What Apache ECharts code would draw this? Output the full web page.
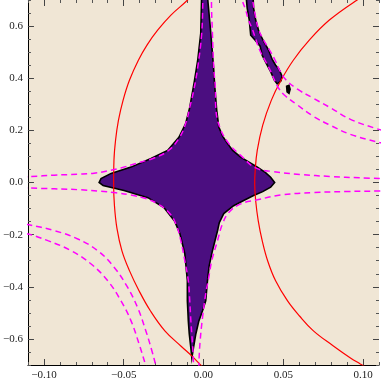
<!DOCTYPE html>
<html>
<head>
<meta charset="utf-8">
<script src="https://cdn.jsdelivr.net/npm/echarts@6/dist/echarts.min.js"></script>
<style>
  html, body { margin: 0; padding: 0; background: #fff; }
  #chart { width: 382px; height: 382px; }
</style>
</head>
<body>
<div id="chart"></div>
<script>
// filled regions (outline points, x/y in data units)
const astroid = [
  [-0.0011, 0.731], [0.0030, 0.731], [0.0027, 0.700], [0.0046, 0.573], [0.0063, 0.442], [0.0071, 0.365],
  [0.0083, 0.277], [0.0096, 0.213], [0.0121, 0.177], [0.0150, 0.150], [0.0183, 0.123], [0.0233, 0.097],
  [0.0338, 0.059], [0.0389, 0.038], [0.0421, 0.020], [0.0446, 0.000], [0.0421, -0.018], [0.0371, -0.035],
  [0.0314, -0.050], [0.0252, -0.069], [0.0189, -0.089], [0.0127, -0.119], [0.0099, -0.154], [0.0088, -0.185],
  [0.0056, -0.262], [0.0036, -0.319], [0.0025, -0.377], [0.0014, -0.454], [-0.0006, -0.492], [-0.0029, -0.531],
  [-0.0048, -0.581], [-0.0063, -0.635], [-0.0073, -0.673], [-0.0079, -0.635], [-0.0089, -0.581], [-0.0095, -0.531],
  [-0.0098, -0.492], [-0.0101, -0.454], [-0.0101, -0.377], [-0.0117, -0.273], [-0.0148, -0.196], [-0.0179, -0.150],
  [-0.0248, -0.096], [-0.0348, -0.058], [-0.0498, -0.031], [-0.0629, -0.012], [-0.0654, 0.000], [-0.0642, 0.015],
  [-0.0579, 0.035], [-0.0454, 0.059], [-0.0329, 0.092], [-0.0225, 0.123], [-0.0154, 0.173], [-0.0111, 0.227],
  [-0.0086, 0.288], [-0.0058, 0.385], [-0.0036, 0.469], [-0.0017, 0.573]
];
const strip = [
  [0.0268, 0.708], [0.0274, 0.669], [0.0287, 0.623], [0.0296, 0.565], [0.0324, 0.546], [0.0355, 0.523],
  [0.0368, 0.488], [0.0396, 0.454], [0.0421, 0.425], [0.0445, 0.392], [0.0462, 0.378], [0.0486, 0.390],
  [0.0492, 0.408], [0.0473, 0.435], [0.0452, 0.450], [0.0430, 0.473], [0.0408, 0.508], [0.0380, 0.538],
  [0.0348, 0.577], [0.0327, 0.623], [0.0314, 0.669], [0.0311, 0.708]
];
const speck = [[0.0521, 0.369], [0.0536, 0.373], [0.0543, 0.358], [0.0536, 0.342], [0.0524, 0.348]];

// red contours
const redLeft = [
  [-0.0061, 0.731], [-0.0100, 0.700], [-0.0204, 0.642], [-0.0286, 0.585], [-0.0354, 0.527], [-0.0408, 0.469],
  [-0.0464, 0.392], [-0.0504, 0.315], [-0.0533, 0.238], [-0.0551, 0.162], [-0.0561, 0.085], [-0.0563, -0.004],
  [-0.0558, -0.088], [-0.0542, -0.177], [-0.0511, -0.262], [-0.0464, -0.338], [-0.0404, -0.415], [-0.0333, -0.492],
  [-0.0242, -0.569], [-0.0142, -0.627], [-0.0067, -0.669], [-0.0011, -0.704], [0.0033, -0.727]
];
const redRight = [
  [0.1052, 0.731], [0.0963, 0.700], [0.0789, 0.623], [0.0663, 0.546], [0.0563, 0.469], [0.0486, 0.392],
  [0.0425, 0.315], [0.0371, 0.219], [0.0337, 0.123], [0.0324, 0.046], [0.0321, -0.004], [0.0327, -0.069],
  [0.0343, -0.146], [0.0368, -0.223], [0.0402, -0.300], [0.0452, -0.377], [0.0527, -0.454], [0.0602, -0.512],
  [0.0689, -0.569], [0.0814, -0.627], [0.0921, -0.673], [0.0983, -0.696], [0.1058, -0.723]
];

// magenta dashed contours
const dashUL = [
  [-0.1142, 0.0212], [-0.1079, 0.0231], [-0.0936, 0.0281], [-0.0786, 0.0319], [-0.0686, 0.0358], [-0.0579, 0.0469],
  [-0.0517, 0.0558], [-0.0423, 0.0731], [-0.0317, 0.0923], [-0.0223, 0.121], [-0.0154, 0.169], [-0.0111, 0.227],
  [-0.0086, 0.288], [-0.0061, 0.354], [-0.0036, 0.442], [-0.0011, 0.573], [-0.0004, 0.700], [-0.0003, 0.731]
];
const dashUR = [
  [0.0052, 0.731], [0.0050, 0.700], [0.0056, 0.573], [0.0064, 0.442], [0.0074, 0.365], [0.0077, 0.288],
  [0.0102, 0.2115], [0.0158, 0.150], [0.0233, 0.104], [0.0327, 0.0558], [0.0433, 0.0423], [0.0608, 0.0308],
  [0.0796, 0.0231], [0.0983, 0.0181], [0.1171, 0.0142]
];
const dashLL = [
  [-0.1142, -0.0204], [-0.0934, -0.0242], [-0.0767, -0.0281], [-0.0642, -0.0335], [-0.0548, -0.0396],
  [-0.0454, -0.0481], [-0.0361, -0.0615], [-0.0279, -0.0846], [-0.0217, -0.115], [-0.0173, -0.158],
  [-0.0142, -0.223], [-0.0117, -0.300], [-0.0095, -0.377], [-0.0086, -0.454], [-0.0079, -0.531],
  [-0.0070, -0.608], [-0.0064, -0.673], [-0.0061, -0.731]
];
const dashLR = [
  [0.1171, -0.0319], [0.1088, -0.0327], [0.0900, -0.0346], [0.0689, -0.0385], [0.0483, -0.0481],
  [0.0338, -0.0665], [0.0233, -0.0819], [0.0160, -0.114], [0.0119, -0.159], [0.0088, -0.223],
  [0.0052, -0.300], [0.0033, -0.365], [0.0014, -0.427], [-0.0006, -0.518], [-0.0021, -0.608],
  [-0.0028, -0.685], [-0.0029, -0.731]
];
const dashCornerA = [
  [-0.1173, -0.1538], [-0.1100, -0.1615], [-0.0934, -0.1846], [-0.0788, -0.2165], [-0.0663, -0.2615],
  [-0.0559, -0.3258], [-0.0475, -0.4027], [-0.0413, -0.4796], [-0.0361, -0.5692], [-0.0323, -0.6462],
  [-0.0298, -0.7038], [-0.0289, -0.7308]
];
const dashCornerB = [
  [-0.1173, -0.1904], [-0.1100, -0.1973], [-0.0975, -0.2231], [-0.0829, -0.2615], [-0.0704, -0.3127],
  [-0.0600, -0.3769], [-0.0517, -0.4538], [-0.0454, -0.5308], [-0.0403, -0.6204], [-0.0361, -0.7038],
  [-0.0348, -0.7308]
];
const dashTopC = [
  [0.0302, 0.731], [0.0308, 0.700], [0.0324, 0.642], [0.0346, 0.585], [0.0377, 0.546], [0.0414, 0.508],
  [0.0449, 0.469], [0.0477, 0.431], [0.0514, 0.396], [0.0589, 0.358], [0.0689, 0.323], [0.0796, 0.2865],
  [0.0921, 0.2423], [0.1088, 0.2058], [0.1171, 0.1923]
];
const dashTopD = [
  [0.0236, 0.731], [0.0243, 0.700], [0.0264, 0.662], [0.0283, 0.623], [0.0308, 0.585], [0.0330, 0.546],
  [0.0352, 0.508], [0.0389, 0.465], [0.0421, 0.427], [0.0446, 0.392], [0.0471, 0.3615], [0.0508, 0.3346],
  [0.0583, 0.300], [0.0689, 0.2538], [0.0796, 0.2192], [0.0921, 0.1846], [0.1088, 0.1558], [0.1171, 0.1442]
];

// axes
const xMin = -0.11, xMax = 0.11, yMin = -0.7, yMax = 0.7;
const xMajor = [-0.1, -0.05, 0, 0.05, 0.1];
const yMajor = [-0.6, -0.4, -0.2, 0, 0.2, 0.4, 0.6];

const bg = '#F0E6D5';
const purple = '#4B0E80';
const font = "'Liberation Serif', 'DejaVu Serif', serif";

const fmt = (v, d) => (v < -1e-9 ? '\u2212' : '') + Math.abs(v).toFixed(d);

function frameAxis(pos, min, max, step, major, labels, digits) {
  const minor = {
    type: 'value', position: pos, min: min, max: max, interval: step,
    axisLine: { show: pos === 'bottom' || pos === 'left', onZero: false, lineStyle: { color: '#000', width: 1 } },
    axisTick: { inside: true, length: 3, lineStyle: { color: '#555' } },
    axisLabel: labels
      ? { customValues: major, formatter: v => fmt(v, digits), fontFamily: font, fontSize: 11, color: '#222', margin: 5 }
      : { show: false },
    splitLine: { show: false }
  };
  const big = {
    type: 'value', position: pos, min: min, max: max,
    axisLine: { show: false, onZero: false },
    axisTick: { inside: true, length: 6, customValues: major, lineStyle: { color: '#444' } },
    axisLabel: { show: false },
    splitLine: { show: false }
  };
  return [minor, big];
}

const chart = echarts.init(document.getElementById('chart'), null, { renderer: 'canvas' });

const shapes = [astroid, strip, speck];

const dashed = [dashUL, dashUR, dashLL, dashLR, dashCornerA, dashCornerB, dashTopC, dashTopD];

const option = {
  animation: false,
  grid: { left: 26, right: 3, top: 0, bottom: 17, show: true, backgroundColor: bg, borderWidth: 0 },
  xAxis: [
    ...frameAxis('bottom', xMin, xMax, 0.01, xMajor, true, 2),
    ...frameAxis('top', xMin, xMax, 0.01, xMajor, false, 2)
  ],
  yAxis: [
    ...frameAxis('left', yMin, yMax, 0.05, yMajor, true, 1),
    ...frameAxis('right', yMin, yMax, 0.05, yMajor, false, 1)
  ],
  series: [
    {
      type: 'custom',
      xAxisIndex: 0, yAxisIndex: 0,
      clip: true,
      data: shapes.map((s, i) => [i]),
      renderItem: (params, api) => {
        const pts = shapes[params.dataIndex].map(p => api.coord(p));
        return {
          type: 'polygon',
          shape: { points: pts },
          style: {
            fill: params.dataIndex === 2 ? '#000' : purple,
            stroke: '#000',
            lineWidth: 1.6
          }
        };
      }
    },
    ...[redLeft, redRight].map(d => ({
      type: 'line', data: d, xAxisIndex: 0, yAxisIndex: 0,
      showSymbol: false, smooth: 0.4, silent: true,
      lineStyle: { color: '#FF0000', width: 1.2 }
    })),
    ...dashed.map(d => ({
      type: 'line', data: d, xAxisIndex: 0, yAxisIndex: 0,
      showSymbol: false, smooth: 0.4, silent: true,
      lineStyle: { color: '#FF00FF', width: 1.5, type: [6, 4] }
    }))
  ]
};

chart.setOption(option);
</script>
</body>
</html>
